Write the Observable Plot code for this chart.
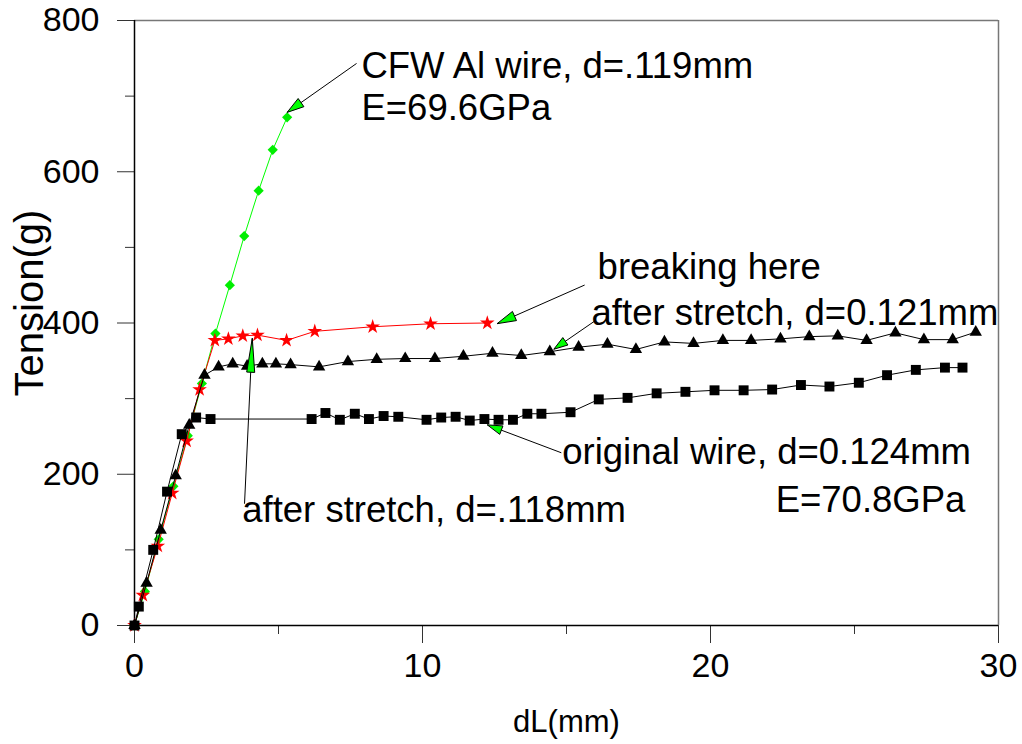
<!DOCTYPE html>
<html><head><meta charset="utf-8">
<script src="https://cdn.jsdelivr.net/npm/d3@7"></script>
<script src="https://cdn.jsdelivr.net/npm/@observablehq/plot@0.6"></script>
<style>body{margin:0;background:#fff}</style>
</head><body><div id="chart"></div>
<script>
// ---- data ----
const origX = [0,0.15,0.65,1.13,1.64,2.14,2.64,6.15,6.63,7.13,7.65,8.14,8.65,9.16,10.14,10.65,11.15,11.64,12.15,12.64,13.14,13.64,14.13,15.14,16.12,17.12,18.13,19.13,20.14,21.15,22.14,23.14,24.13,25.15,26.13,27.13,28.14,28.75];
const origY = [0,25,100,177,253,275,273,273,281,272,280,273,277,276,272,275,276,271,273,272,272,280,280,282,299,301,307,309,311,311,312,318,316,321,331,338,341,341];
const stretch121X = [0,0.42,0.91,1.43,1.9,2.43,2.92,3.41,3.91,4.44,4.91,5.42,6.41,7.41,8.41,9.4,10.43,11.42,12.43,13.43,14.42,15.42,16.42,17.41,18.4,19.41,20.43,21.41,22.43,23.43,24.42,25.42,26.42,27.41,28.41,29.21];
const stretch121Y = [0,56,126,198,265,331,342,346,343,346,346,345,342,349,352,353,353,356,360,357,362,368,372,365,375,373,377,377,379,382,383,377,387,378,378,388];
const stretch118X = [0,0.29,0.81,1.31,1.81,2.26,2.79,3.26,3.76,4.27,5.28,6.26,8.27,10.28,12.25];
const stretch118Y = [0,40,105,175,244,312,377,379,383,384,377,389,395,399,400];
const cfwX = [0,0.36,0.84,1.35,1.85,2.34,2.81,3.31,3.81,4.31,4.8,5.3];
const cfwY = [0,45,114,184,251,320,386,450,515,575,629,672];

const xMajorTicks = [0,10,20,30];
const xMinorTicks = [5,15,25];
const yMajorTicks = [0,200,400,600,800];
const yMinorTicks = [100,300,500,700];

// annotation leader lines (data units)
const annFromX = [7.71,15.63,15.98,14.82,3.82];
const annFromY = [743.2,450.2,402.6,228.4,161];
const annTipX = [5.30,12.59,14.56,12.25,4.09];
const annTipY = [678.5,399.1,365.3,265.3,379.8];
const headLen = [17,19,14,15,34];
const headHalfW = [5,5,4.5,4.5,4];

// annotation texts
const labelText = ["CFW Al wire, d=.119mm","E=69.6GPa","breaking here","after stretch, d=0.121mm","original wire, d=0.124mm","E=70.8GPa","after stretch, d=.118mm"];
const labelX = [7.88,7.88,16.08,15.87,14.85,28.85,3.74];
const labelY = [723.4,668,458,397.4,213.5,149.6,136.4];
const labelAnchor = ["start","start","start","start","start","end","start"];

// ---- build ----
const W = 1022, H = 744, mL = 134, mR = 24, mT = 20, mB = 119;
const kx = (W - mL - mR) / 30, ky = (H - mT - mB) / 800;
const pts = (xs, ys) => xs.map((x, i) => ({x, y: ys[i]}));
const orig = pts(origX, origY), s121 = pts(stretch121X, stretch121Y), s118 = pts(stretch118X, stretch118Y), cfw = pts(cfwX, cfwY);
const ann = annTipX.map((t, i) => ({x1: annFromX[i], y1: annFromY[i], x2: t, y2: annTipY[i]}));
const labels = labelText.map((t, i) => ({text: t, x: labelX[i], y: labelY[i], anchor: labelAnchor[i]}));

function headSymbol(i) {
  const dx = (annTipX[i] - annFromX[i]) * kx, dy = -(annTipY[i] - annFromY[i]) * ky;
  const n = Math.hypot(dx, dy), ux = dx / n, uy = dy / n;
  const L = headLen[i], hw = headHalfW[i];
  return {draw(ctx) {
    const bx = -ux * L, by = -uy * L;
    ctx.moveTo(0, 0);
    ctx.lineTo(bx - uy * hw, by + ux * hw);
    ctx.lineTo(bx + uy * hw, by - ux * hw);
    ctx.closePath();
  }};
}

const font = "'Liberation Sans', Arial, Helvetica, sans-serif";
const fs = 34, annFs = 36.5;

const marks = [
  Plot.ruleY([800], {stroke: "#777", strokeWidth: 1.5}),
  Plot.ruleX([30], {stroke: "#777", strokeWidth: 1.5}),
  Plot.axisY({ticks: yMinorTicks, tickSize: 9, tickFormat: () => "", label: null, stroke: "#333"}),
  Plot.axisY({ticks: yMajorTicks, tickSize: 17, tickPadding: 18, label: null, fontSize: fs, stroke: "#333", fill: "black", tickFormat: d => String(d)}),
  Plot.axisX({ticks: xMinorTicks, tickSize: 9, tickFormat: () => "", label: null, stroke: "#333"}),
  Plot.axisX({ticks: xMajorTicks, tickSize: 18, tickPadding: 9, label: null, fontSize: fs, stroke: "#333", fill: "black", tickFormat: d => String(d)}),
  Plot.ruleX([0], {stroke: "black", strokeWidth: 1.5}),
  Plot.ruleY([0], {stroke: "black", strokeWidth: 1.5}),
  Plot.line(cfw, {x: "x", y: "y", stroke: "#00ff00", strokeWidth: 1}),
  Plot.dot(cfw, {x: "x", y: "y", symbol: "diamond2", r: 4.6, fill: "#00ee00", stroke: "none"}),
  Plot.line(s118, {x: "x", y: "y", stroke: "#ff0000", strokeWidth: 1}),
  Plot.dot(s118, {x: "x", y: "y", symbol: "star", r: 4.6, fill: "#ff0000", stroke: "none"}),
  Plot.line(s121, {x: "x", y: "y", stroke: "black", strokeWidth: 1}),
  Plot.dot(s121, {x: "x", y: "y", symbol: "triangle", r: 4.6, fill: "black", stroke: "none"}),
  Plot.line(orig, {x: "x", y: "y", stroke: "black", strokeWidth: 1}),
  Plot.dot(orig, {x: "x", y: "y", symbol: "square", r: 5.6, fill: "black", stroke: "none"}),
  Plot.link(ann, {x1: "x1", y1: "y1", x2: "x2", y2: "y2", stroke: "black", strokeWidth: 1}),
  ...ann.map((a, i) => Plot.dot([a], {x: "x2", y: "y2", symbol: headSymbol(i), r: 5, fill: "#00ff00", stroke: "black", strokeWidth: 1})),
  Plot.text(labels.filter(d => d.anchor === "start"), {x: "x", y: "y", text: "text", textAnchor: "start", lineAnchor: "bottom", fontSize: annFs, fill: "black"}),
  Plot.text(labels.filter(d => d.anchor === "end"), {x: "x", y: "y", text: "text", textAnchor: "end", lineAnchor: "bottom", fontSize: annFs, fill: "black"}),
  Plot.text(["Tension(g)"], {frameAnchor: "left", dx: -104, dy: -20, rotate: -90, textAnchor: "middle", lineAnchor: "middle", fontSize: 40, fill: "black"}),
  Plot.text(["dL(mm)"], {frameAnchor: "bottom", dy: 106, textAnchor: "middle", lineAnchor: "bottom", fontSize: 31, fill: "black"})
];

const chart = Plot.plot({
  width: W, height: H,
  marginLeft: mL, marginRight: mR, marginTop: mT, marginBottom: mB,
  x: {domain: [0, 30], label: null},
  y: {domain: [0, 800], label: null},
  style: {fontFamily: font, fontSize: fs + "px", background: "white", color: "black", overflow: "visible"},
  marks
});
document.getElementById("chart").appendChild(chart);
</script></body></html>
